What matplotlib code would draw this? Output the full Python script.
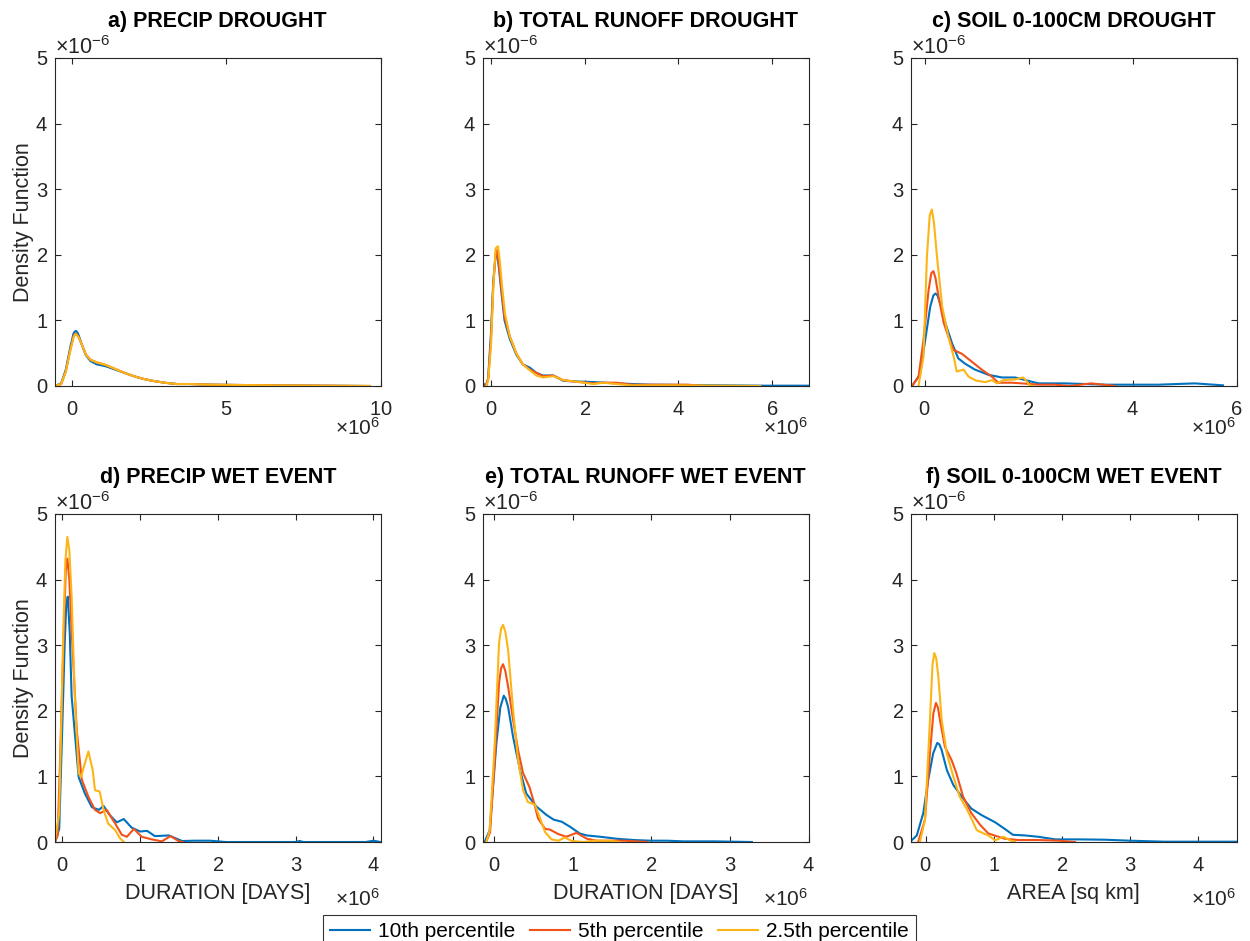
import matplotlib
matplotlib.use("Agg")
import matplotlib.pyplot as plt
from matplotlib.ticker import ScalarFormatter

plt.rcParams['font.family'] = ['Liberation Sans', 'DejaVu Sans']
plt.rcParams['mathtext.fontset'] = 'custom'
plt.rcParams['mathtext.rm'] = 'Liberation Sans'
plt.rcParams['mathtext.it'] = 'Liberation Sans:italic'
plt.rcParams['mathtext.bf'] = 'Liberation Sans:bold'

# x in units of 1e6, density in units of 1e-6
# a) precip drought
a_x = [-0.55, -0.35, -0.2, -0.05, 0.05, 0.09, 0.13, 0.17, 0.22, 0.32, 0.45, 0.6, 0.8, 1.1, 1.4,
       1.7, 2.0, 2.3, 2.6, 3.0, 3.4, 3.8, 4.5, 5.5, 6.5, 8.0, 9.65]
a_blue_y = [0, 0.04, 0.25, 0.6, 0.8, 0.83, 0.84, 0.82, 0.77, 0.63, 0.47, 0.38, 0.33, 0.30, 0.25,
            0.20, 0.15, 0.11, 0.08, 0.05, 0.03, 0.03, 0.02, 0.015, 0.01, 0.005, 0]
a_red_y = [0, 0.03, 0.22, 0.56, 0.75, 0.79, 0.80, 0.78, 0.74, 0.63, 0.48, 0.40, 0.36, 0.32, 0.26,
           0.20, 0.15, 0.11, 0.08, 0.05, 0.03, 0.03, 0.02, 0.015, 0.01, 0.005, 0]
a_yellow_y = [0, 0.03, 0.22, 0.55, 0.74, 0.78, 0.79, 0.77, 0.74, 0.63, 0.48, 0.40, 0.36, 0.32, 0.26,
              0.20, 0.15, 0.11, 0.08, 0.05, 0.03, 0.03, 0.02, 0.015, 0.01, 0.005, 0]

# b) total runoff drought
b_blue_x = [-0.17, -0.1, -0.06, 0.0, 0.05, 0.1, 0.13, 0.17, 0.22, 0.29, 0.40, 0.54, 0.68, 0.83,
            0.97, 1.11, 1.33, 1.54, 1.76, 2.18, 2.68, 3.4, 4.2, 5.0, 5.8, 6.78]
b_blue_y = [0.04, 0.0, 0.12, 0.8, 1.6, 2.0, 2.03, 1.8, 1.45, 1.0, 0.72, 0.48, 0.33, 0.28,
            0.2, 0.16, 0.16, 0.08, 0.07, 0.06, 0.04, 0.02, 0.015, 0.01, 0.005, 0.005]
b_red_x = [-0.12, -0.06, 0.0, 0.05, 0.1, 0.13, 0.17, 0.22, 0.29, 0.40, 0.54, 0.68, 0.83, 0.97,
           1.11, 1.33, 1.54, 1.76, 2.18, 2.4, 2.68, 3.0, 3.4, 4.2, 4.6]
b_red_y = [0.0, 0.1, 0.7, 1.55, 2.02, 2.07, 1.85, 1.5, 1.05, 0.76, 0.5, 0.33, 0.25, 0.2,
           0.15, 0.16, 0.09, 0.07, 0.04, 0.05, 0.05, 0.02, 0.02, 0.02, 0.0]
b_yellow_x = [-0.1, -0.06, 0.0, 0.05, 0.1, 0.15, 0.19, 0.24, 0.3, 0.40, 0.54, 0.68, 0.83, 0.97,
              1.11, 1.33, 1.54, 1.76, 2.0, 2.18, 2.4, 2.68, 3.0, 4.0, 5.0, 5.75]
b_yellow_y = [0.0, 0.08, 0.6, 1.5, 2.1, 2.13, 1.9, 1.5, 1.1, 0.76, 0.5, 0.33, 0.24, 0.16,
              0.13, 0.15, 0.09, 0.07, 0.05, 0.03, 0.05, 0.03, 0.01, 0.01, 0.005, 0.0]

# c) soil 0-100cm drought
c_blue_x = [-0.24, -0.085, 0.013, 0.11, 0.17, 0.21, 0.25, 0.30, 0.40, 0.53, 0.65, 0.78, 0.97,
            1.23, 1.49, 1.74, 1.94, 2.19, 2.7, 3.5, 4.5, 5.2, 5.74]
c_blue_y = [0, 0.18, 0.70, 1.21, 1.38, 1.41, 1.38, 1.26, 0.96, 0.65, 0.42, 0.34, 0.25,
            0.17, 0.13, 0.13, 0.09, 0.04, 0.04, 0.02, 0.02, 0.04, 0.01]
c_red_x = [-0.24, -0.115, -0.02, 0.078, 0.13, 0.17, 0.21, 0.27, 0.37, 0.46, 0.56, 0.72, 0.91,
           1.1, 1.3, 1.42, 1.68, 1.87, 2.2, 2.5, 2.8, 3.2, 3.67]
c_red_y = [0, 0.14, 0.70, 1.46, 1.72, 1.75, 1.65, 1.36, 0.96, 0.75, 0.55, 0.49, 0.37,
           0.25, 0.14, 0.05, 0.05, 0.04, 0.02, 0.02, 0.0, 0.04, 0.0]
c_yellow_x = [-0.115, -0.02, 0.046, 0.1, 0.14, 0.18, 0.24, 0.34, 0.46, 0.56, 0.62, 0.75, 0.85,
              1.0, 1.17, 1.30, 1.39, 1.52, 1.74, 1.90, 2.03, 2.1]
c_yellow_y = [0, 0.45, 1.97, 2.6, 2.69, 2.5, 1.97, 1.21, 0.75, 0.45, 0.22, 0.25, 0.14,
              0.08, 0.06, 0.09, 0.04, 0.09, 0.10, 0.13, 0.01, 0.0]

# d) precip wet event
d_blue_x = [-0.094, -0.04, -0.008, 0.03, 0.05, 0.07, 0.095, 0.12, 0.21, 0.29, 0.38, 0.47, 0.53,
            0.61, 0.70, 0.79, 0.89, 1.0, 1.09, 1.19, 1.37, 1.54, 1.7, 1.9, 2.1, 3.0, 3.05, 3.1,
            3.9, 4.0, 4.09]
d_blue_y = [0, 0.2, 1.45, 3.0, 3.6, 3.74, 3.2, 2.22, 0.99, 0.74, 0.53, 0.49, 0.55,
            0.41, 0.30, 0.35, 0.22, 0.16, 0.17, 0.09, 0.10, 0.015, 0.02, 0.02, 0.0, 0.0, 0.015, 0.0,
            0.0, 0.02, 0.0]
d_red_x = [-0.094, -0.06, -0.03, 0.026, 0.045, 0.065, 0.09, 0.12, 0.185, 0.25, 0.335, 0.42,
           0.486, 0.57, 0.68, 0.765, 0.83, 0.92, 1.02, 1.15, 1.28, 1.39, 1.5, 1.55]
d_red_y = [0, 0.1, 1.2, 3.49, 4.15, 4.32, 4.0, 3.23, 1.71, 0.95, 0.69, 0.49,
           0.44, 0.49, 0.28, 0.11, 0.08, 0.2, 0.08, 0.04, 0.01, 0.09, 0.01, 0.0]
d_yellow_x = [-0.094, -0.04, 0.013, 0.04, 0.065, 0.09, 0.12, 0.16, 0.21, 0.24, 0.29, 0.335,
              0.39, 0.42, 0.48, 0.53, 0.59, 0.68, 0.74, 0.79]
d_yellow_y = [0.03, 0.44, 3.23, 4.3, 4.65, 4.45, 3.74, 2.22, 1.05, 0.99, 1.2, 1.38,
              1.10, 0.79, 0.77, 0.49, 0.28, 0.18, 0.06, 0.0]

# e) total runoff wet event
e_blue_x = [-0.12, -0.055, 0.03, 0.08, 0.124, 0.15, 0.179, 0.243, 0.33, 0.41, 0.54, 0.67, 0.76,
            0.86, 0.97, 1.09, 1.18, 1.35, 1.56, 1.78, 1.99, 2.2, 2.41, 2.8, 3.28]
e_blue_y = [0, 0.18, 1.5, 2.05, 2.23, 2.18, 2.06, 1.6, 1.10, 0.74, 0.54, 0.41, 0.34,
            0.31, 0.23, 0.13, 0.10, 0.08, 0.05, 0.03, 0.02, 0.02, 0.01, 0.01, 0.0]
e_red_x = [-0.1, -0.05, 0.009, 0.064, 0.09, 0.115, 0.145, 0.179, 0.243, 0.306, 0.37, 0.45, 0.50,
           0.56, 0.65, 0.71, 0.82, 0.92, 1.05, 1.18, 1.31, 1.48, 1.65, 1.95]
e_red_y = [0, 0.15, 1.25, 2.42, 2.65, 2.71, 2.6, 2.37, 1.86, 1.40, 1.05, 0.84, 0.64,
           0.36, 0.2, 0.19, 0.12, 0.08, 0.14, 0.05, 0.02, 0.02, 0.02, 0.0]
e_yellow_x = [-0.098, -0.055, 0.009, 0.064, 0.09, 0.115, 0.145, 0.179, 0.243, 0.306, 0.37, 0.43,
              0.52, 0.58, 0.65, 0.73, 0.82, 0.90, 0.99, 1.14, 1.27, 1.48, 1.6]
e_yellow_y = [0, 0.18, 1.5, 3.03, 3.25, 3.31, 3.2, 2.93, 2.01, 1.25, 0.79, 0.61,
              0.57, 0.38, 0.15, 0.04, 0.02, 0.07, 0.015, 0.0, 0.02, 0.02, 0.0]

# f) soil 0-100cm wet event
f_blue_x = [-0.23, -0.13, -0.035, 0.038, 0.11, 0.17, 0.2, 0.235, 0.31, 0.405, 0.53, 0.67, 0.82,
            1.02, 1.16, 1.28, 1.46, 1.65, 1.9, 2.24, 2.63, 3.0, 3.5, 4.0, 4.56]
f_blue_y = [0, 0.1, 0.44, 0.95, 1.35, 1.51, 1.49, 1.40, 1.10, 0.87, 0.69, 0.51, 0.41,
            0.30, 0.20, 0.11, 0.10, 0.08, 0.04, 0.04, 0.035, 0.02, 0.005, 0.005, 0.005]
f_red_x = [-0.11, -0.01, 0.063, 0.113, 0.151, 0.18, 0.21, 0.283, 0.38, 0.45, 0.55, 0.67, 0.80,
           0.92, 1.04, 1.16, 1.36, 1.65, 1.95, 2.19]
f_red_y = [0, 0.34, 1.35, 1.96, 2.12, 2.05, 1.86, 1.45, 1.25, 1.05, 0.69, 0.44, 0.26,
           0.13, 0.09, 0.05, 0.03, 0.03, 0.02, 0.0]
f_yellow_x = [-0.084, -0.01, 0.063, 0.1, 0.127, 0.155, 0.186, 0.235, 0.31, 0.405, 0.50, 0.6,
              0.67, 0.75, 0.85, 0.92, 1.02, 1.14, 1.24, 1.31]
f_yellow_y = [0, 0.34, 1.86, 2.7, 2.88, 2.8, 2.52, 1.86, 1.35, 1.0, 0.69, 0.51,
              0.36, 0.18, 0.13, 0.1, 0.025, 0.08, 0.025, 0.0]

titles = ['a) PRECIP DROUGHT', 'b) TOTAL RUNOFF DROUGHT', 'c) SOIL 0-100CM DROUGHT',
          'd) PRECIP WET EVENT', 'e) TOTAL RUNOFF WET EVENT', 'f) SOIL 0-100CM WET EVENT']
xlabels = ['', '', '', 'DURATION [DAYS]', 'DURATION [DAYS]', 'AREA [sq km]']
xlims = [(-0.55, 10.0), (-0.17, 6.78), (-0.26, 6.0), (-0.094, 4.09), (-0.14, 4.0), (-0.215, 4.56)]
xticks = [[0, 5, 10], [0, 2, 4, 6], [0, 2, 4, 6], [0, 1, 2, 3, 4], [0, 1, 2, 3, 4], [0, 1, 2, 3, 4]]
legend_labels = ['10th percentile', '5th percentile', '2.5th percentile']

curves = [
    [(a_x, a_blue_y), (a_x, a_red_y), (a_x, a_yellow_y)],
    [(b_blue_x, b_blue_y), (b_red_x, b_red_y), (b_yellow_x, b_yellow_y)],
    [(c_blue_x, c_blue_y), (c_red_x, c_red_y), (c_yellow_x, c_yellow_y)],
    [(d_blue_x, d_blue_y), (d_red_x, d_red_y), (d_yellow_x, d_yellow_y)],
    [(e_blue_x, e_blue_y), (e_red_x, e_red_y), (e_yellow_x, e_yellow_y)],
    [(f_blue_x, f_blue_y), (f_red_x, f_red_y), (f_yellow_x, f_yellow_y)],
]
colors = ['#0072BD', '#F2521A', '#FDB515']
axcol = '#262626'

fig = plt.figure(figsize=(12.5, 9.41), dpi=100)
lefts = [0.044, 0.3864, 0.7288]
bottoms = [0.5898, 0.1052]
w, h = 0.2604, 0.3486

handles = []
for i in range(6):
    ax = fig.add_axes([lefts[i % 3], bottoms[i // 3], w, h])
    for k, (xs, ys) in enumerate(curves[i]):
        ln, = ax.plot([v * 1e6 for v in xs], [v * 1e-6 for v in ys], color=colors[k], lw=1.5)
        if i == 0:
            handles.append(ln)
    ax.set_xlim(xlims[i][0] * 1e6, xlims[i][1] * 1e6)
    ax.set_ylim(0, 5e-6)
    ax.set_xticks([t * 1e6 for t in xticks[i]])
    ax.set_yticks([t * 1e-6 for t in range(6)])

    xfmt = ScalarFormatter(useMathText=True)
    xfmt.set_powerlimits((6, 6))
    ax.xaxis.set_major_formatter(xfmt)
    ax.xaxis.get_offset_text().set_visible(False)
    # x exponent drawn like matlab, below the right end
    ax.text(1.0, -0.15 if i < 3 else -0.193, r'$\times10^{6}$', transform=ax.transAxes,
            ha='right', va='baseline', fontsize=15, color=axcol)

    yfmt = ScalarFormatter(useMathText=True)
    yfmt.set_powerlimits((-6, -6))
    ax.yaxis.set_major_formatter(yfmt)
    ax.yaxis.get_offset_text().set_fontsize(15.5)
    ax.yaxis.get_offset_text().set_color(axcol)

    ax.tick_params(direction='in', top=True, right=True, length=4, width=0.8,
                   labelsize=14.5, colors=axcol, pad=5)
    ax.tick_params(axis='x', pad=10)
    for sp in ax.spines.values():
        sp.set_color(axcol)
        sp.set_linewidth(0.8)
    ax.set_title(titles[i], fontsize=15.5, fontweight='bold', pad=22)
    if xlabels[i]:
        ax.set_xlabel(xlabels[i], fontsize=15.5, color=axcol, labelpad=6)
    if i % 3 == 0:
        ax.set_ylabel('Density Function', fontsize=15.5, color=axcol, labelpad=1)

leg = fig.legend(handles, legend_labels, loc='lower center', bbox_to_anchor=(0.4955, -0.008),
                 ncol=3, fontsize=15, frameon=True, fancybox=False, edgecolor='black',
                 handlelength=1.9, handletextpad=0.4, columnspacing=0.7, borderaxespad=0,
                 borderpad=0.35)
leg.get_frame().set_linewidth(0.8)

fig.savefig('out.png', dpi=100)
